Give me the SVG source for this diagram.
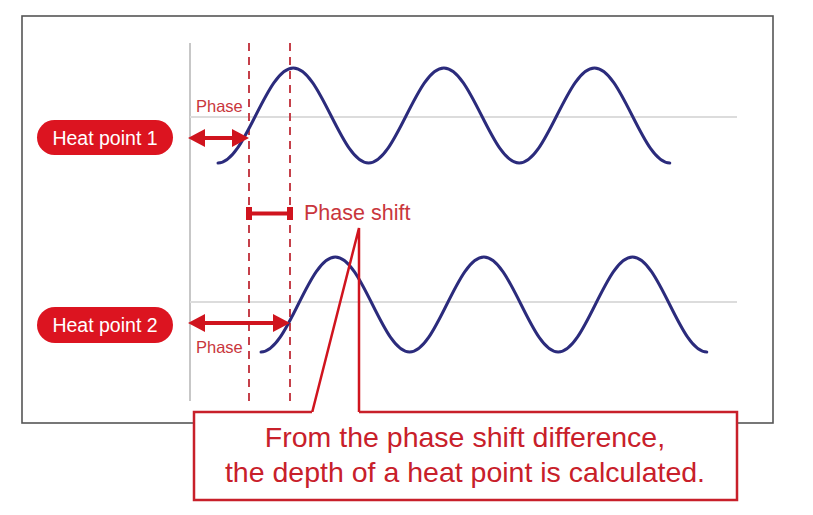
<svg xmlns="http://www.w3.org/2000/svg" width="813" height="515" viewBox="0 0 813 515">
<style>
.frame{fill:#fff;stroke:#555;stroke-width:1.6}
.axis{stroke:#b4b4b4;stroke-width:1.5}
.base{stroke:#dcdcdc;stroke-width:2}
.dash{stroke:#c5404a;stroke-width:2;stroke-dasharray:8 6}
.wave{fill:none;stroke:#2b2b7c;stroke-width:3;stroke-linecap:round}
.pill{fill:#dc1420}
.pilltxt{font-family:"Liberation Sans",Arial,sans-serif;font-size:19.5px;fill:#fff;text-anchor:middle}
.arrow{stroke:#d0141e;stroke-width:4}
.lbl{font-family:"Liberation Sans",Arial,sans-serif;fill:#c9363c}
.callout{fill:#fff;stroke:#c8202a;stroke-width:2.5}
.ptr{fill:none;stroke:#d0141e;stroke-width:2.5;stroke-linejoin:miter}
.ctxt{font-family:"Liberation Sans",Arial,sans-serif;font-size:28.5px;fill:#c8202a;text-anchor:middle}
</style>
<defs>
<marker id="ah" markerUnits="userSpaceOnUse" markerWidth="17" markerHeight="18" refX="0" refY="9" orient="auto-start-reverse" viewBox="0 0 17 18">
<path d="M0,0 L17,9 L0,18 z" fill="#d0141e"/>
</marker>
</defs>
<rect class="frame" x="22" y="16" width="751" height="407"/>
<g id="axes">
<line class="axis" x1="190" y1="43" x2="190" y2="401"/>
<line class="base" x1="190" y1="117" x2="737" y2="117"/>
<line class="base" x1="190" y1="302" x2="737" y2="302"/>
<line class="dash" x1="249" y1="43" x2="249" y2="402"/>
<line class="dash" x1="290" y1="43" x2="290" y2="402"/>
</g>
<g id="wave1">
<path class="wave" d="M218,163 C245.4,163 265.9,68 293.3,68 S341.2,163 368.6,163 S416.5,68 443.9,68 S491.8,163 519.2,163 S567.1,68 594.5,68 S642.4,163 669.8,163"/>
</g>
<g id="wave2">
<path class="wave" d="M261,352 C288,352 308.3,257 335.3,257 S382.6,352 409.6,352 S456.9,257 483.9,257 S531.2,352 558.2,352 S605.5,257 632.5,257 S679.8,352 706.8,352"/>
</g>
<g id="heat-point-1">
<rect class="pill" x="37" y="120" width="136" height="35" rx="17.5"/>
<text class="pilltxt" x="105" y="145">Heat point 1</text>
</g>
<g id="heat-point-2">
<rect class="pill" x="37" y="307" width="136" height="36" rx="18"/>
<text class="pilltxt" x="105" y="332">Heat point 2</text>
</g>
<g id="connectors">
<line class="arrow" x1="205" y1="138" x2="232" y2="138" marker-start="url(#ah)" marker-end="url(#ah)"/>
<line class="arrow" x1="205" y1="323" x2="273" y2="323" marker-start="url(#ah)" marker-end="url(#ah)"/>
<line class="arrow" x1="249" y1="213.5" x2="290" y2="213.5"/>
<rect x="246" y="207" width="6" height="13" fill="#d0141e"/>
<rect x="287" y="207" width="6" height="13" fill="#d0141e"/>
<polyline class="ptr" points="312,413 359,228 359,413"/>
</g>
<g id="labels">
<text class="lbl" x="196" y="112" font-size="16.5">Phase</text>
<text class="lbl" x="196" y="353" font-size="16.5">Phase</text>
<text class="lbl" x="304" y="220" font-size="21.5">Phase shift</text>
</g>
<g id="callout">
<path class="callout" d="M312,412 L194,412 L194,500 L737,500 L737,412 L359,412"/>
<text class="ctxt" x="465" y="447">From the phase shift difference,</text>
<text class="ctxt" x="465" y="482">the depth of a heat point is calculated.</text>
</g>
</svg>
